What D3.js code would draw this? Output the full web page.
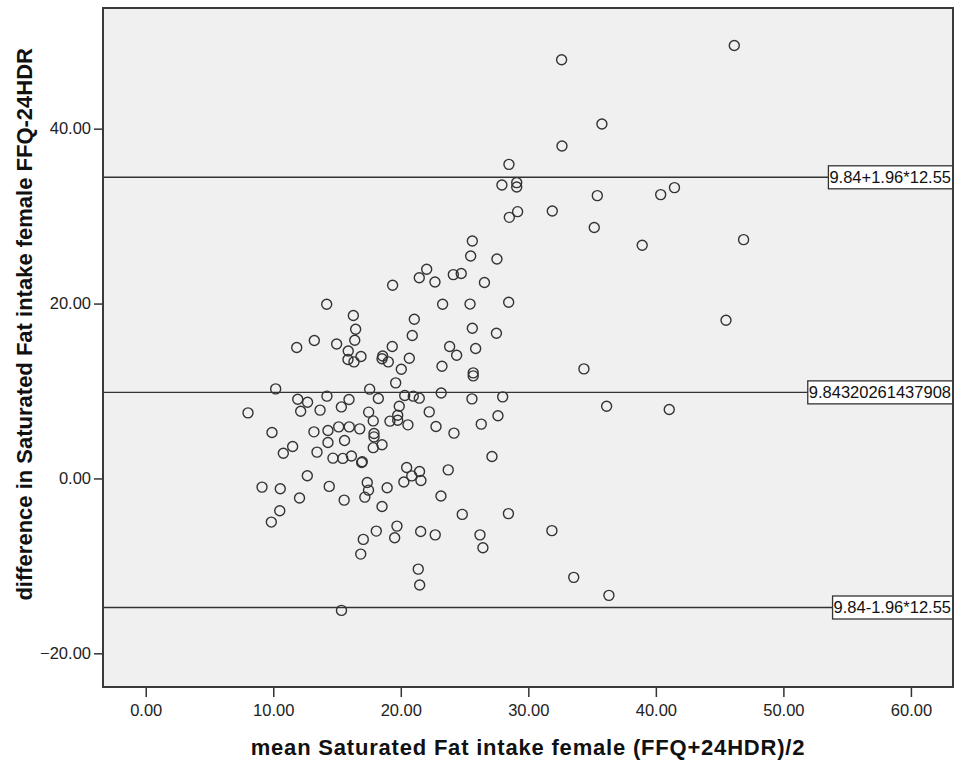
<!DOCTYPE html>
<html>
<head>
<meta charset="utf-8">
<script src="https://cdn.jsdelivr.net/npm/d3@7"></script>
<style>
    body { margin: 0; background: #fff; }
    svg text { font-family: "Liberation Sans", Arial, sans-serif; }
</style>
</head>
<body>
<div id="chart"></div>
<script>

//Bland-Altman data: mean of the two methods and their difference
const meanVals = [
    14.19, 11.84, 13.22, 14.97, 15.88, 15.86, 10.19, 11.92, 12.69, 12.15,
    14.21, 13.67, 15.34, 8.02, 9.90, 13.19, 14.29, 15.13, 14.29, 15.59,
    11.52, 10.79, 13.43, 14.68, 15.45, 16.13, 12.67, 9.12, 10.55, 14.39,
    12.06, 15.56, 10.51, 9.85, 15.35, 19.36, 21.45, 22.68, 26.56, 23.28,
    25.43, 16.28, 21.06, 16.46, 25.61, 20.90, 27.50, 16.39, 16.88, 16.33,
    19.33, 18.58, 18.53, 19.02, 20.67, 20.04, 19.60, 23.83, 24.38, 25.87,
    23.23, 25.68, 25.68, 15.94, 17.56, 18.24, 20.31, 20.98, 21.45, 19.88,
    23.17, 25.58, 27.99, 17.48, 17.84, 19.15, 19.76, 19.76, 20.56, 22.23,
    22.76, 24.17, 26.31, 27.62, 15.96, 16.78, 17.90, 17.90, 17.84, 18.53,
    16.93, 16.98, 20.46, 21.47, 20.86, 21.58, 20.24, 23.72, 27.15, 17.37,
    17.47, 17.18, 18.93, 23.15, 18.53, 24.82, 28.44, 31.85, 18.08, 19.70,
    19.52, 17.06, 16.86, 21.56, 22.70, 26.21, 26.44, 21.37, 21.48, 32.61,
    35.77, 32.64, 28.48, 27.93, 29.09, 29.09, 35.41, 40.38, 41.46, 29.16,
    28.51, 31.88, 35.17, 38.93, 25.61, 25.48, 27.54, 22.03, 24.12, 24.74,
    28.46, 46.15, 46.88, 45.50, 34.36, 36.14, 41.05, 33.56, 36.32
];

const diffVals = [
    19.92, 14.97, 15.77, 15.38, 14.58, 13.60, 10.24, 9.06, 8.72, 7.69,
    9.41, 7.81, 8.18, 7.50, 5.26, 5.33, 5.49, 5.90, 4.11, 4.34,
    3.66, 2.89, 3.01, 2.32, 2.29, 2.57, 0.30, -0.99, -1.17, -0.91,
    -2.23, -2.48, -3.70, -4.99, -15.09, 22.09, 22.95, 22.47, 22.41, 19.92,
    19.94, 18.63, 18.21, 17.06, 17.18, 16.34, 16.61, 15.81, 13.94, 13.33,
    15.09, 14.01, 13.69, 13.33, 13.75, 12.49, 10.93, 15.09, 14.09, 14.86,
    12.83, 12.07, 11.73, 9.03, 10.21, 9.14, 9.49, 9.41, 9.18, 8.26,
    9.78, 9.10, 9.33, 7.58, 6.58, 6.55, 7.23, 6.66, 6.13, 7.61,
    5.94, 5.18, 6.21, 7.17, 5.90, 5.67, 5.14, 4.75, 3.52, 3.86,
    1.83, 1.92, 1.26, 0.80, 0.29, -0.23, -0.40, 0.98, 2.51, -0.46,
    -1.34, -2.14, -1.07, -2.00, -3.20, -4.11, -4.02, -5.97, -6.02, -5.45,
    -6.79, -6.97, -8.65, -6.06, -6.45, -6.45, -7.93, -10.37, -12.19, 47.89,
    40.53, 38.01, 35.92, 33.55, 33.83, 33.33, 32.34, 32.46, 33.26, 30.51,
    29.86, 30.58, 28.69, 26.66, 27.15, 25.44, 25.10, 23.92, 23.31, 23.43,
    20.15, 49.52, 27.31, 18.09, 12.53, 8.26, 7.89, -11.31, -13.37
];

//Reference lines (mean difference and limits of agreement)
const refValues = [9.84 + 1.96 * 12.55, 9.84320261437908, 9.84 - 1.96 * 12.55];
const refLabels = ["9.84+1.96*12.55", "9.84320261437908", "9.84-1.96*12.55"];

const xTicks = [0, 10, 20, 30, 40, 50, 60];
const yTicks = [-20, 0, 20, 40];

const xTitle = "mean Saturated Fat intake female (FFQ+24HDR)/2";
const yTitle = "difference in Saturated Fat intake female FFQ-24HDR";

class BlandAltman {

    constructor(_parentElement) {
        this.parentElement = _parentElement;
        this.displayData = meanVals.map((m, i) => ({ mean: m, diff: diffVals[i] }));
        this.initVis();
    }

    initVis() {
        let vis = this;
        vis.margin = { top: 8, right: 1, bottom: 76, left: 103 };
        vis.width = 954 - vis.margin.left - vis.margin.right;
        vis.height = 763 - vis.margin.top - vis.margin.bottom;

        vis.svg = d3.select(vis.parentElement)
            .append("svg")
            .attr("width", 954)
            .attr("height", 763)
            .append("g")
            .attr("transform", `translate(${vis.margin.left},${vis.margin.top})`);

        vis.x = d3.scaleLinear().domain([-3.35, 63.3]).range([0, vis.width]);
        vis.y = d3.scaleLinear().domain([-23.85, 53.8]).range([vis.height, 0]);

        vis.svg.append("rect")
            .attr("width", vis.width)
            .attr("height", vis.height)
            .attr("fill", "#f0f0f0");

        vis.updateVis();
    }

    updateVis() {
        let vis = this;

        //axes
        const xAxis = vis.svg.append("g")
            .attr("transform", `translate(0,${vis.height})`)
            .call(d3.axisBottom(vis.x).tickValues(xTicks).tickFormat(d3.format(".2f")).tickSize(10).tickPadding(7));
        const yAxis = vis.svg.append("g")
            .call(d3.axisLeft(vis.y).tickValues(yTicks).tickFormat(d3.format(".2f")).tickSize(9).tickPadding(3));

        [xAxis, yAxis].forEach(ax => {
            ax.select(".domain").remove();
            ax.selectAll("line").attr("stroke", "#333").attr("stroke-width", 1.5);
            ax.selectAll("text")
                .style("font-size", "16.5px")
                .attr("fill", "#222");
        });

        //reference lines and their boxed labels
        const refs = vis.svg.append("g").selectAll("g")
            .data(refValues.map((v, i) => ({ value: v, label: refLabels[i] })))
            .enter().append("g")
            .attr("transform", d => `translate(0,${vis.y(d.value)})`);

        refs.append("line")
            .attr("x1", 0).attr("x2", vis.width)
            .attr("stroke", "#333").attr("stroke-width", 1.4);

        refs.each(function(d) {
            const g = d3.select(this);
            const rect = g.append("rect");
            const txt = g.append("text")
                .attr("text-anchor", "end")
                .attr("x", vis.width - 2)
                .attr("y", 6)
                .style("font-size", "16.5px")
                .attr("fill", "#111")
                .text(d.label);
            const w = txt.node().getComputedTextLength();
            rect.attr("x", vis.width - w - 3)
                .attr("y", -11.5)
                .attr("width", w + 3)
                .attr("height", 23)
                .attr("fill", "#fff")
                .attr("stroke", "#333")
                .attr("stroke-width", 1.3);
            txt.raise();
        });

        //points
        vis.svg.append("g").selectAll("circle")
            .data(vis.displayData)
            .enter().append("circle")
            .attr("cx", d => vis.x(d.mean))
            .attr("cy", d => vis.y(d.diff))
            .attr("r", 5)
            .attr("fill", "none")
            .attr("stroke", "#333")
            .attr("stroke-width", 1.4);

        //frame
        vis.svg.append("rect")
            .attr("width", vis.width)
            .attr("height", vis.height)
            .attr("fill", "none")
            .attr("stroke", "#3a3a3a")
            .attr("stroke-width", 2);

        //titles
        vis.svg.append("text")
            .attr("x", vis.width / 2)
            .attr("y", vis.height + 68)
            .attr("text-anchor", "middle")
            .style("font-size", "22px")
            .style("letter-spacing", "0.8px")
            .style("font-weight", "bold")
            .attr("fill", "#111")
            .text(xTitle);

        vis.svg.append("text")
            .attr("transform", `translate(${32 - vis.margin.left},${48 - vis.margin.top}) rotate(-90)`)
            .attr("text-anchor", "end")
            .style("font-size", "22px")
            .style("font-weight", "bold")
            .attr("fill", "#111")
            .text(yTitle);
    }
}

new BlandAltman("#chart");

</script>
</body>
</html>
